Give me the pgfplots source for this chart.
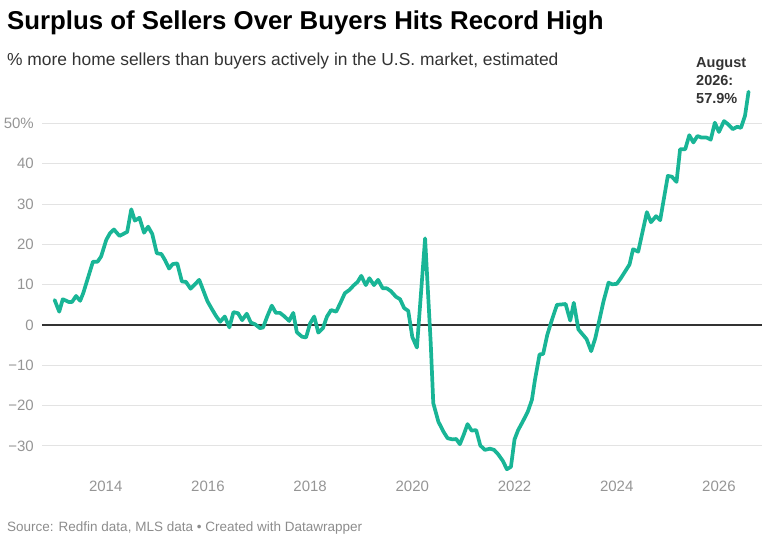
\documentclass[border=0pt]{standalone}
\usepackage{fontspec}
\setmainfont{Liberation Sans}
\usepackage{pgfplots}
\pgfplotsset{compat=1.18}

\definecolor{lineteal}{HTML}{19B596}
\definecolor{gridgray}{HTML}{E3E3E3}
\definecolor{ticklab}{HTML}{959595}
\definecolor{subtxt}{HTML}{333333}
\definecolor{srctxt}{HTML}{8C8C8C}

\begin{document}
\begin{tikzpicture}
  \path[use as bounding box] (0,0) rectangle (768bp,543bp);

  % title block
  \node[anchor=base west, inner sep=0pt] at (7bp,513bp)
    {\fontsize{25.8bp}{30bp}\selectfont\bfseries Surplus of Sellers Over Buyers Hits Record High};
  \node[anchor=base west, inner sep=0pt, text=subtxt] at (7bp,477bp)
    {\fontsize{17.4bp}{20bp}\selectfont \% more home sellers than buyers actively in the U.S. market, estimated};

  \begin{axis}[
      at={(42bp,64.9bp)}, anchor=south west,
      scale only axis,
      width=720bp, height=394.9bp,
      xmin=2012.753, xmax=2026.843,
      ymin=-38, ymax=60,
      clip=false,
      axis line style={draw=none},
      major tick length=0pt,
      xtick={2014,2016,2018,2020,2022,2024,2026},
      xticklabels={2014,2016,2018,2020,2022,2024,2026},
      ytick={-30,-20,-10,0,10,20,30,40,50},
      yticklabels={−30,−20,−10,0,10,20,30,40,50\%},
      ymajorgrids,
      major grid style={gridgray, line width=0.9bp},
      tick label style={font=\fontsize{15bp}{15bp}\selectfont, text=ticklab},
      yticklabel style={anchor=east, inner sep=0pt, xshift=-8bp},
      xticklabel style={anchor=north, inner sep=0pt, yshift=-2.5bp},
    ]
    \addplot[draw=subtxt, line width=1.3bp] coordinates {(2012.753,0) (2026.843,0)};
    \addplot[lineteal, line width=3.7bp, line join=round, line cap=round] coordinates {
      (2013.00,6.2) (2013.09,3.3) (2013.16,6.4) (2013.28,5.7) (2013.34,5.7)
      (2013.42,7.2) (2013.50,6.0) (2013.56,7.9) (2013.75,15.7) (2013.84,15.7)
      (2013.91,17.0) (2014.01,21.1) (2014.08,22.7) (2014.16,23.7) (2014.27,22.1)
      (2014.42,23.1) (2014.50,28.7) (2014.57,25.9) (2014.66,26.6) (2014.75,22.9)
      (2014.83,24.4) (2014.91,22.6) (2015.00,17.8) (2015.09,17.6) (2015.16,16.1)
      (2015.24,14.0) (2015.31,15.1) (2015.40,15.3) (2015.49,10.8) (2015.57,10.7)
      (2015.66,9.0) (2015.83,11.2) (2015.99,5.9) (2016.08,3.9) (2016.16,2.2)
      (2016.24,0.8) (2016.33,2.1) (2016.42,-0.6) (2016.50,3.2) (2016.59,2.9)
      (2016.67,1.2) (2016.76,2.8) (2016.84,0.6) (2016.92,0.2) (2017.02,-0.8)
      (2017.08,-0.6) (2017.16,2.1) (2017.25,4.8) (2017.33,3.0) (2017.41,3.0)
      (2017.50,2.1) (2017.59,1.0) (2017.67,3.0) (2017.74,-1.8) (2017.84,-2.9)
      (2017.92,-3.1) (2018.00,0.4) (2018.08,2.1) (2018.16,-1.9) (2018.25,-0.8)
      (2018.33,2.1) (2018.41,3.7) (2018.51,3.3) (2018.59,5.4) (2018.68,7.9)
      (2018.77,8.7) (2018.85,9.8) (2018.93,10.7) (2019.00,12.2) (2019.09,9.9)
      (2019.16,11.6) (2019.25,9.9) (2019.33,11.2) (2019.42,9.1) (2019.50,9.1)
      (2019.58,8.4) (2019.68,7.0) (2019.76,6.4) (2019.84,4.2) (2019.92,3.5)
      (2020.00,-3.0) (2020.09,-5.6) (2020.25,21.5) (2020.36,-4.5) (2020.41,-19.4)
      (2020.51,-24.0) (2020.61,-26.5) (2020.69,-28.1) (2020.79,-28.4) (2020.86,-28.3)
      (2020.93,-29.6) (2021.01,-27.1) (2021.08,-24.6) (2021.16,-26.2) (2021.25,-26.1)
      (2021.33,-29.9) (2021.42,-31.0) (2021.52,-30.7) (2021.60,-31.0) (2021.68,-32.1)
      (2021.77,-33.7) (2021.85,-35.8) (2021.93,-35.2) (2022.00,-28.4) (2022.07,-26.1)
      (2022.16,-24.0) (2022.26,-21.5) (2022.34,-18.6) (2022.40,-13.6) (2022.49,-7.3)
      (2022.56,-7.2) (2022.64,-2.5) (2022.73,1.2) (2022.83,5.0) (2022.92,5.1)
      (2023.00,5.2) (2023.09,1.1) (2023.16,5.5) (2023.25,-1.1) (2023.33,-2.3)
      (2023.41,-3.5) (2023.50,-6.5) (2023.58,-3.3) (2023.66,1.2) (2023.74,5.8)
      (2023.84,10.5) (2023.91,10.1) (2024.00,10.2) (2024.08,11.6) (2024.16,13.2)
      (2024.25,15.0) (2024.32,18.8) (2024.42,18.2) (2024.59,28.0) (2024.67,25.5)
      (2024.77,27.0) (2024.85,26.0) (2025.00,37.0) (2025.08,36.8) (2025.17,35.5)
      (2025.24,43.6) (2025.34,43.6) (2025.42,47.1) (2025.50,45.3) (2025.58,46.9)
      (2025.66,46.5) (2025.76,46.5) (2025.84,46.0) (2025.92,50.2) (2026.00,47.9)
      (2026.10,50.6) (2026.18,49.8) (2026.27,48.6) (2026.36,49.2) (2026.43,48.9)
      (2026.51,51.9) (2026.58,57.9)
    };
  \end{axis}

  % annotation for the last point
  \begin{scope}[every node/.style={anchor=base west, inner sep=0pt, text=subtxt,
      font=\fontsize{14.5bp}{17bp}\selectfont\bfseries}]
    \node at (696bp,475.7bp) {August};
    \node at (696bp,457.7bp) {2026:};
    \node at (696bp,439.7bp) {57.9\%};
  \end{scope}

  % source line
  \node[anchor=base west, inner sep=0pt, text=srctxt] at (7bp,12bp)
    {\fontsize{13.5bp}{15bp}\selectfont Source: Redfin data, MLS data • Created with Datawrapper};
\end{tikzpicture}
\end{document}
